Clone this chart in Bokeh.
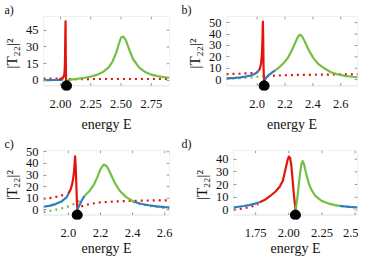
from bokeh.plotting import figure
from bokeh.layouts import column, row
from bokeh.models import Title, BoxAnnotation, FixedTicker, Range1d
from bokeh.embed import file_html
from bokeh.resources import INLINE

RED = "#e2140c"
GREEN = "#74c045"
BLUE = "#2f7dbb"
FONT = "Liberation Serif"

# ---------------- panel a ----------------
A_XT = [2.0, 2.25, 2.5, 2.75]
A_XL = ["2.00", "2.25", "2.50", "2.75"]
A_YT = [0, 15, 30, 45]
A_BLUE_L_E = [1.86, 1.90, 1.95, 2.00, 2.02]
A_BLUE_L_Y = [0.2, 0.3, 0.4, 0.6, 0.8]
A_RED_E = [1.99, 2.01, 2.025, 2.033, 2.037, 2.040, 2.042, 2.044, 2.046, 2.048, 2.05, 2.055, 2.06]
A_RED_Y = [1.2, 1.8, 3.0, 6.0, 15.0, 40.0, 53.0, 20.0, 2.0, -1.5, -1.0, -0.5, 0.3]
A_GREEN_E = [2.06, 2.1, 2.15, 2.2, 2.25, 2.3, 2.35, 2.4, 2.43, 2.46, 2.48, 2.5, 2.52, 2.54, 2.57, 2.6, 2.65, 2.7, 2.75, 2.8, 2.85, 2.9]
A_GREEN_Y = [0.3, 1.0, 1.6, 2.4, 3.5, 5.0, 7.5, 12.0, 17.0, 25.0, 32.0, 38.5, 39.3, 36.0, 27.0, 19.0, 11.5, 7.5, 5.2, 3.9, 3.0, 2.4]
A_RDOT_L_E = [1.86, 1.95, 2.03]
A_RDOT_L_Y = [1.6, 1.6, 1.7]
A_RDOT_R_E = [2.07, 2.3, 2.6, 2.9]
A_RDOT_R_Y = [1.2, 1.3, 1.3, 1.3]
A_DOT_E = 2.05

# ---------------- panel b ----------------
B_XT = [2.0, 2.2, 2.4, 2.6]
B_XL = ["2.0", "2.2", "2.4", "2.6"]
B_YT = [0, 10, 20, 30, 40, 50]
B_BLUE_L_E = [1.78, 1.84, 1.88, 1.92, 1.96, 1.99, 2.01]
B_BLUE_L_Y = [1.1, 1.5, 2.0, 2.7, 3.8, 5.5, 7.5]
B_RED_E = [2.01, 2.02, 2.028, 2.034, 2.038, 2.041, 2.043, 2.046, 2.05, 2.055]
B_RED_Y = [7.5, 10.0, 14.0, 22.0, 35.0, 51.0, 40.0, 10.0, -2.5, 0.0]
B_BLUE_M_E = [2.055, 2.07, 2.09, 2.11, 2.13]
B_BLUE_M_Y = [0.0, 2.5, 4.5, 6.5, 8.0]
B_GREEN_E = [2.13, 2.16, 2.19, 2.22, 2.25, 2.27, 2.29, 2.305, 2.32, 2.34, 2.37, 2.4, 2.44, 2.48, 2.53, 2.57, 2.63, 2.68, 2.73]
B_GREEN_Y = [8.0, 11.0, 14.5, 19.0, 26.0, 31.5, 37.0, 39.5, 38.5, 34.0, 26.0, 19.5, 13.5, 10.0, 6.5, 4.8, 3.3, 2.5, 1.9]
B_RDOT_L_E = [1.78, 1.84, 1.9, 1.96, 2.0]
B_RDOT_L_Y = [4.8, 5.0, 5.3, 5.8, 6.5]
B_RDOT_R_E = [2.07, 2.12, 2.2, 2.3, 2.45, 2.6, 2.73]
B_RDOT_R_Y = [3.0, 3.4, 3.8, 4.1, 4.3, 4.5, 4.6]
B_GDOT_L_E = [1.78, 1.84, 1.9, 1.96, 2.02, 2.06]
B_GDOT_L_Y = [0.7, 1.0, 1.4, 2.0, 2.8, 3.5]
B_DOT_E = 2.05

# ---------------- panel c ----------------
C_XT = [2.0, 2.2, 2.4, 2.6]
C_XL = ["2.0", "2.2", "2.4", "2.6"]
C_YT = [0, 10, 20, 30, 40, 50]
C_BLUE_L_E = [1.845, 1.88, 1.92, 1.96, 1.99, 2.0]
C_BLUE_L_Y = [2.7, 3.5, 5.0, 7.5, 11.0, 14.0]
C_RED_E = [2.0, 2.015, 2.025, 2.033, 2.038, 2.042, 2.046, 2.05, 2.053, 2.056]
C_RED_Y = [14.0, 18.0, 23.0, 30.0, 38.0, 46.0, 36.0, 20.0, 8.0, 0.0]
C_BLUE_M_E = [2.056, 2.07, 2.085, 2.10]
C_BLUE_M_Y = [0.0, 4.5, 8.5, 12.0]
C_GREEN_E = [2.10, 2.13, 2.16, 2.18, 2.2, 2.22, 2.24, 2.26, 2.29, 2.32, 2.36, 2.41]
C_GREEN_Y = [12.0, 16.0, 22.0, 28.0, 35.0, 39.0, 37.5, 32.0, 23.0, 16.5, 11.0, 7.0]
C_BLUE_R_E = [2.41, 2.45, 2.5, 2.55, 2.6, 2.63]
C_BLUE_R_Y = [7.0, 5.3, 4.0, 3.1, 2.4, 2.1]
C_RDOT_L_E = [1.845, 1.9, 1.95, 1.99]
C_RDOT_L_Y = [9.6, 10.5, 12.0, 14.0]
C_RDOT_R_E = [2.08, 2.13, 2.2, 2.3, 2.4, 2.5, 2.63]
C_RDOT_R_Y = [3.0, 5.0, 6.5, 7.3, 7.8, 8.1, 8.3]
C_GDOT_L_E = [1.845, 1.9, 1.95, 2.0, 2.05, 2.09]
C_GDOT_L_Y = [-1.7, -0.5, 1.0, 3.0, 6.0, 10.0]
C_GDOT_R_E = [2.4, 2.45, 2.5, 2.55, 2.6, 2.63]
C_GDOT_R_Y = [7.0, 5.0, 3.6, 2.6, 1.7, 1.2]
C_DOT_E = 2.055

# ---------------- panel d ----------------
D_XT = [1.75, 2.0, 2.25, 2.5]
D_XL = ["1.75", "2.00", "2.25", "2.5"]
D_YT = [0, 10, 20, 30, 40]
D_BLUE_L_E = [1.585, 1.62, 1.66, 1.70, 1.74, 1.78]
D_BLUE_L_Y = [2.0, 2.5, 3.1, 3.8, 4.8, 6.1]
D_RED_E = [1.78, 1.82, 1.86, 1.9, 1.93, 1.955, 1.975, 1.99, 2.0, 2.01, 2.02, 2.03, 2.04, 2.052]
D_RED_Y = [6.1, 8.0, 11.0, 14.5, 18.0, 23.0, 32.0, 39.0, 42.0, 41.0, 34.0, 22.0, 10.0, 0.0]
D_GREEN_E = [2.052, 2.065, 2.075, 2.085, 2.095, 2.105, 2.115, 2.13, 2.15, 2.17, 2.2, 2.25, 2.3, 2.35, 2.38]
D_GREEN_Y = [0.0, 10.0, 20.0, 29.0, 36.0, 38.5, 36.0, 29.0, 21.0, 16.0, 11.0, 7.0, 5.0, 3.8, 3.3]
D_BLUE_R_E = [2.38, 2.42, 2.46, 2.5, 2.518]
D_BLUE_R_Y = [3.3, 2.8, 2.4, 2.1, 2.0]
D_RDOT_L_E = [1.585, 1.63, 1.68, 1.73, 1.77]
D_RDOT_L_Y = [0.2, 0.8, 1.7, 3.0, 4.5]
D_GDOT_R_E = [2.35, 2.4, 2.45, 2.5, 2.518]
D_GDOT_R_Y = [3.5, 2.8, 2.3, 1.9, 1.8]
D_DOT_E = 2.05

EXT = 5   # px the frame extends below the drawn box so the marker dot shows whole
TICK = 3  # px tick length (inside)

panels = [
    dict(tag="a)", xr=(1.86, 2.90), yr=(-4.8, 57.3), xt=A_XT, xl=A_XL, yt=A_YT,
         solid=[(A_BLUE_L_E, A_BLUE_L_Y, BLUE), (A_RED_E, A_RED_Y, RED), (A_GREEN_E, A_GREEN_Y, GREEN)],
         dotted=[(A_RDOT_L_E, A_RDOT_L_Y, RED), (A_RDOT_R_E, A_RDOT_R_Y, RED)],
         dot=A_DOT_E, w=180, h=134, bl=40, br=11, bb=41, lstand=6),
    dict(tag="b)", xr=(1.78, 2.72), yr=(-5.5, 55.5), xt=B_XT, xl=B_XL, yt=B_YT,
         solid=[(B_BLUE_L_E, B_BLUE_L_Y, BLUE), (B_RED_E, B_RED_Y, RED), (B_BLUE_M_E, B_BLUE_M_Y, BLUE), (B_GREEN_E, B_GREEN_Y, GREEN)],
         dotted=[(B_RDOT_L_E, B_RDOT_L_Y, RED), (B_RDOT_R_E, B_RDOT_R_Y, RED), (B_GDOT_L_E, B_GDOT_L_Y, GREEN)],
         dot=B_DOT_E, w=178, h=134, bl=46, br=1, bb=41, lstand=6),
    dict(tag="c)", xr=(1.845, 2.63), yr=(-4.4, 51.1), xt=C_XT, xl=C_XL, yt=C_YT,
         solid=[(C_BLUE_L_E, C_BLUE_L_Y, BLUE), (C_RED_E, C_RED_Y, RED), (C_BLUE_M_E, C_BLUE_M_Y, BLUE), (C_GREEN_E, C_GREEN_Y, GREEN), (C_BLUE_R_E, C_BLUE_R_Y, BLUE)],
         dotted=[(C_RDOT_L_E, C_RDOT_L_Y, RED), (C_RDOT_R_E, C_RDOT_R_Y, RED), (C_GDOT_L_E, C_GDOT_L_Y, GREEN), (C_GDOT_R_E, C_GDOT_R_Y, GREEN)],
         dot=C_DOT_E, w=180, h=124, bl=40, br=11, bb=33, lstand=1),
    dict(tag="d)", xr=(1.583, 2.518), yr=(-4.0, 46.8), xt=D_XT, xl=D_XL, yt=D_YT,
         solid=[(D_BLUE_L_E, D_BLUE_L_Y, BLUE), (D_RED_E, D_RED_Y, RED), (D_GREEN_E, D_GREEN_Y, GREEN), (D_BLUE_R_E, D_BLUE_R_Y, BLUE)],
         dotted=[(D_RDOT_L_E, D_RDOT_L_Y, RED), (D_GDOT_R_E, D_GDOT_R_Y, GREEN)],
         dot=D_DOT_E, w=178, h=124, bl=53, br=1, bb=33, lstand=1),
]

AX = "#9a9a9a"
TXT = "#111111"
TITLE_H = 14   # expected height of the panel-tag title strip


def make(pn):
    fh = pn["h"] - TITLE_H - pn["bb"]
    fw = pn["w"] - pn["bl"] - pn["br"]
    bh = fh - EXT
    y0, y1 = pn["yr"]
    x0, x1 = pn["xr"]
    upp = (y1 - y0) / bh
    xupp = (x1 - x0) / fw
    ystart = y0 - EXT * upp
    p = figure(width=pn["w"], height=pn["h"], x_range=Range1d(x0, x1),
               y_range=Range1d(ystart, y1), output_backend="svg", toolbar_location=None,
               min_border_left=pn["bl"], min_border_right=pn["br"],
               min_border_top=0, min_border_bottom=pn["bb"],
               outline_line_color=None)
    p.title = Title(text=pn["tag"], align="left", offset=-(pn["bl"] - 1), standoff=0,
                    text_font=FONT, text_font_size="12px", text_font_style="normal",
                    text_color=TXT)
    p.grid.grid_line_color = None
    # visible box (the frame reaches a little lower so the dot is not cut)
    p.add_layout(BoxAnnotation(bottom=y0, fill_color=None, fill_alpha=0,
                               line_color=AX, line_width=1, level="underlay"))
    # inward ticks on top, bottom and right edges of the box
    tx = pn["xt"]
    p.segment(x0=tx, x1=tx, y0=[y1 - TICK * upp] * len(tx), y1=[y1] * len(tx),
              line_color=AX, line_width=1)
    p.segment(x0=tx, x1=tx, y0=[y0] * len(tx), y1=[y0 + TICK * upp] * len(tx),
              line_color=AX, line_width=1)
    ty = pn["yt"]
    p.segment(x0=[x1 - TICK * xupp] * len(ty), x1=[x1] * len(ty), y0=ty, y1=ty,
              line_color=AX, line_width=1)

    for xs, ys, c in pn["dotted"]:
        p.line(xs, ys, line_color=c, line_width=2.2, line_dash="2 4")
    for xs, ys, c in pn["solid"]:
        p.line(xs, ys, line_color=c, line_width=2.2, line_join="round")
    p.scatter([pn["dot"]], [y0], size=10, color="black")

    xa = p.xaxis[0]
    xa.ticker = FixedTicker(ticks=pn["xt"])
    xa.major_label_overrides = {t: l for t, l in zip(pn["xt"], pn["xl"])}
    xa.axis_line_color = None
    xa.major_tick_line_color = None
    xa.minor_tick_line_color = None
    xa.major_label_standoff = 3
    xa.major_label_text_font = FONT
    xa.major_label_text_font_size = "12.5px"
    xa.major_label_text_color = TXT
    xa.axis_label = "energy E"
    xa.axis_label_text_font = FONT
    xa.axis_label_text_font_size = "14px"
    xa.axis_label_text_font_style = "normal"
    xa.axis_label_text_color = TXT
    xa.axis_label_standoff = pn["lstand"]

    ya = p.yaxis[0]
    ya.ticker = FixedTicker(ticks=pn["yt"])
    ya.axis_line_color = None
    ya.major_tick_in = TICK
    ya.major_tick_out = 0
    ya.major_tick_line_color = AX
    ya.minor_tick_line_color = None
    ya.major_label_standoff = 5
    ya.major_label_text_font = FONT
    ya.major_label_text_font_size = "12.5px"
    ya.major_label_text_color = TXT
    ya.axis_label = "|T\u2082\u2082|\u00b2"
    ya.axis_label_text_font = FONT
    ya.axis_label_text_font_size = "15px"
    ya.axis_label_text_font_style = "normal"
    ya.axis_label_text_color = TXT
    ya.axis_label_standoff = 3
    return p


figs = [make(pn) for pn in panels]
layout = column(row(figs[0], figs[1]), row(figs[2], figs[3]))
open("out.html", "w").write(file_html(layout, INLINE))
